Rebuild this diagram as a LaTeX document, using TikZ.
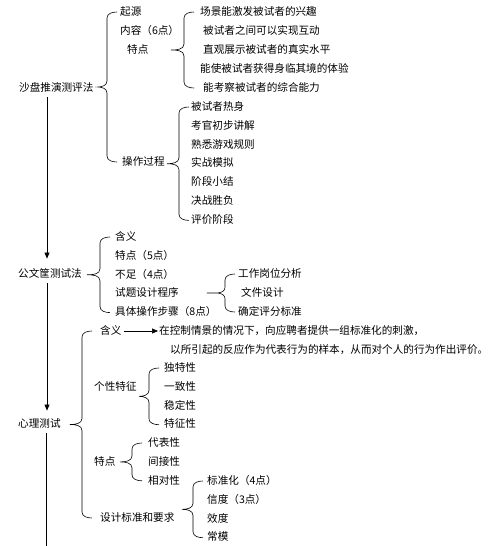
\documentclass[tikz,border=0pt]{standalone}
\usepackage{fontspec}
\setmainfont{Noto Sans CJK SC}
\usetikzlibrary{arrows.meta, positioning, calc}

% curly brace: #1 tip offset, #2 top end, #3 bottom end
\newcommand{\cbrace}[3][22pt]{%
  \draw[brc] let \p1=#2, \p2=#3, \p3=($(\p1)!0.5!(\p2)$) in
    (\p1) to[out=180,in=90] (\x1-10pt,\y1-6pt) -- (\x1-10pt,\y3+6pt)
    to[out=-90,in=0] (\x1-#1,\y3) to[out=0,in=90] (\x1-10pt,\y3-6pt)
    -- (\x1-10pt,\y2+6pt) to[out=-90,in=180] (\p2);}

\begin{document}
\begin{tikzpicture}[x=1pt, y=-1pt,
  font=\fontsize{10.6pt}{12pt}\selectfont,
  lbl/.style={inner sep=0pt, anchor=west, text height=8.5pt, text depth=2pt},
  brc/.style={line width=0.6pt},
  arrow/.style={-{Triangle[length=6pt, width=5pt]}, line width=0.6pt}
]
\useasboundingbox (0,0) rectangle (500,546);
\coordinate (spine) at (47,0);
\coordinate (spend) at (46,546);

% top level
\node[lbl] (sp) at (19,88) {沙盘推演测评法};
\node[lbl] (gw) at (18,274) {公文筐测试法};
\node[lbl] (xl) at (18,424) {心理测试};

% 沙盘推演测评法
\node[lbl] (qiyuan) at (120,12) {起源};
\node[lbl] (neirong) at (120,31) {内容（6点）};
\node[lbl] (tedian) at (127,50) {特点};
\node[lbl] (caozuo) at (122,162) {操作过程};

\node[lbl] (te1) at (200,12) {场景能激发被试者的兴趣};
\node[lbl] (te2) at (203,31) {被试者之间可以实现互动};
\node[lbl] (te3) at (203,50) {直观展示被试者的真实水平};
\node[lbl] (te4) at (200,69) {能使被试者获得身临其境的体验};
\node[lbl] (te5) at (203,88) {能考察被试者的综合能力};

\node[lbl] (cz1) at (191,107) {被试者热身};
\node[lbl, below=8pt of cz1.south west, anchor=north west] (cz2) {考官初步讲解};
\node[lbl, below=8pt of cz2.south west, anchor=north west] (cz3) {熟悉游戏规则};
\node[lbl, below=8pt of cz3.south west, anchor=north west] (cz4) {实战模拟};
\node[lbl, below=8pt of cz4.south west, anchor=north west] (cz5) {阶段小结};
\node[lbl, below=8pt of cz5.south west, anchor=north west] (cz6) {决战胜负};
\node[lbl, below=8pt of cz6.south west, anchor=north west] (cz7) {评价阶段};

% 公文筐测试法
\node[lbl] (gw1) at (115,237) {含义};
\node[lbl, below=8pt of gw1.south west, anchor=north west] (gw2) {特点（5点）};
\node[lbl, below=8pt of gw2.south west, anchor=north west] (gw3) {不足（4点）};
\node[lbl, below=8pt of gw3.south west, anchor=north west] (gw4) {试题设计程序};
\node[lbl, below=8pt of gw4.south west, anchor=north west] (gw5) {具体操作步骤（8点）};

\node[lbl] (sj1) at (238,274) {工作岗位分析};
\node[lbl] (sj2) at (241,293) {文件设计};
\node[lbl] (sj3) at (238,312) {确定评分标准};

% 心理测试
\node[lbl] (hy) at (100,331) {含义};
\node[lbl] (dy1) at (159,331) {在控制情景的情况下，向应聘者提供一组标准化的刺激，};
\node[lbl] (dy2) at (170,350) {以所引起的反应作为代表行为的样本，从而对个人的行为作出评价。};
\node[lbl] (gx) at (94,387) {个性特征};
\node[lbl] (td) at (94,462) {特点};
\node[lbl] (bz) at (100,518) {设计标准和要求};

\node[lbl] (gx1) at (164,368) {独特性};
\node[lbl, below=8pt of gx1.south west, anchor=north west] (gx2) {一致性};
\node[lbl, below=8pt of gx2.south west, anchor=north west] (gx3) {稳定性};
\node[lbl, below=8pt of gx3.south west, anchor=north west] (gx4) {特征性};

\node[lbl] (td1) at (148,443) {代表性};
\node[lbl, below=8pt of td1.south west, anchor=north west] (td2) {间接性};
\node[lbl, below=8pt of td2.south west, anchor=north west] (td3) {相对性};

\node[lbl] (bz1) at (207,481) {标准化（4点）};
\node[lbl, below=8pt of bz1.south west, anchor=north west] (bz2) {信度（3点）};
\node[lbl, below=8pt of bz2.south west, anchor=north west] (bz3) {效度};
\node[lbl, below=8pt of bz3.south west, anchor=north west] (bz4) {常模};

% braces
\cbrace[19pt]{([xshift=-3pt]qiyuan.west)}{([xshift=-3pt]qiyuan.west |- caozuo.west)}
\cbrace[23pt]{([xshift=-6pt]te1.west)}{([xshift=-6pt]te1.west |- te5.west)}
\cbrace[22pt]{([xshift=-2pt]cz1.west)}{([xshift=-2pt]cz7.west)}
\cbrace[23pt]{([xshift=-5pt]gw1.west)}{([xshift=-5pt]gw5.west)}
\cbrace[28pt]{([xshift=-3pt]sj1.west)}{([xshift=-3pt]sj3.west)}
\cbrace[22pt]{([xshift=-8pt]hy.west)}{([xshift=-8pt]hy.west |- bz.west)}
\cbrace[20pt]{([xshift=-5pt]gx1.west)}{([xshift=-5pt]gx4.west)}
\cbrace[22pt]{([xshift=-6pt]td1.west)}{([xshift=-6pt]td3.west)}
\cbrace[21pt]{([xshift=-4pt]bz1.west)}{([xshift=-4pt]bz4.west)}

% connectors
\draw[arrow, shorten <=4pt, shorten >=10pt] (sp.south -| spine) -- (gw.north -| spine);
\draw[arrow, shorten <=4pt, shorten >=8pt] (gw.south -| spine) -- (xl.north -| spine);
\draw[brc, shorten <=4pt] (xl.south -| spend) -- (spend);
\draw[arrow, shorten <=2pt, shorten >=1pt] (hy.east) -- (dy1.west);
\end{tikzpicture}
\end{document}
